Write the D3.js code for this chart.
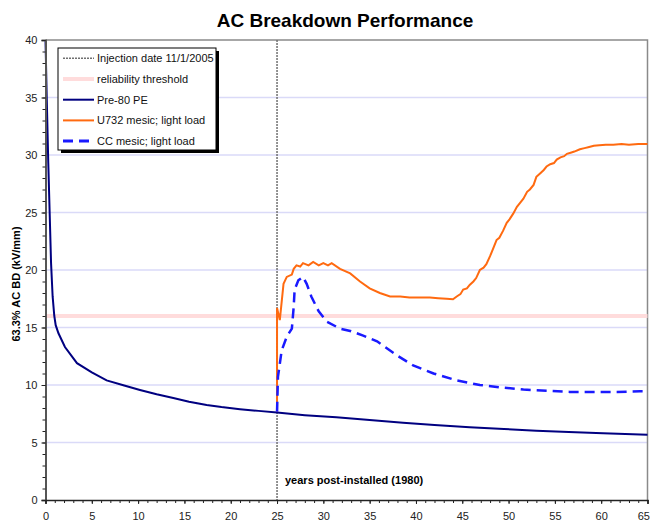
<!DOCTYPE html>
<html lang="en">
<head>
<meta charset="UTF-8">
<title>AC Breakdown Performance</title>
<script src="https://d3js.org/d3.v7.min.js"></script>
<style>
  body { margin: 0; background: #fff; }
  svg text { font-family: Arial, "Liberation Sans", sans-serif; }
</style>
</head>
<body>
<div id="chart"></div>
<script>
// ---- data ----
var preX = [0, 0.13, 0.3, 0.6, 0.77, 0.95, 1.1, 1.4, 2.1, 3.4, 5, 6.6, 8.5, 10.2, 12, 13.8, 15.5, 17.4, 19, 21, 23, 25, 28, 31.4, 35, 38.6, 42, 45.8, 49.5, 53, 56.5, 60.2, 65];
var preY = [40, 35.1, 29.3, 20.6, 17.7, 16.0, 15.2, 14.5, 13.3, 11.9, 11.1, 10.4, 9.95, 9.57, 9.2, 8.87, 8.55, 8.26, 8.08, 7.9, 7.75, 7.6, 7.38, 7.19, 6.95, 6.72, 6.52, 6.32, 6.17, 6.03, 5.91, 5.8, 5.68];

var u732X = [25, 25, 25.3, 25.7, 26.05, 26.6, 26.8, 27.1, 27.5, 27.8, 28.4, 28.9, 29.5, 30.0, 30.5, 30.9, 31.8, 32.9, 33.96, 35.0, 36.1, 37.2, 38.3, 39.3, 40.4, 41.5, 42.4, 43.3, 44.0, 44.4, 44.8, 45.1, 45.5, 45.8, 46.2, 46.5, 46.9, 47.3, 47.6, 48.0, 48.3, 48.7, 49.0, 49.4, 49.8, 50.1, 50.5, 50.9, 51.2, 51.6, 52.0, 52.3, 52.7, 53.0, 53.4, 53.8, 54.1, 54.5, 54.9, 55.2, 55.6, 56.0, 56.3, 56.7, 57.1, 57.7, 58.2, 58.7, 59.2, 59.8, 60.5, 61.3, 62.2, 63.0, 64.0, 65];
var u732Y = [7.68, 16.7, 15.65, 18.8, 19.4, 19.6, 20.1, 20.4, 20.3, 20.6, 20.4, 20.7, 20.4, 20.6, 20.4, 20.6, 20.1, 19.7, 19.0, 18.4, 18.0, 17.7, 17.7, 17.6, 17.6, 17.6, 17.55, 17.5, 17.45, 17.7, 17.9, 18.3, 18.4, 18.7, 19.0, 19.3, 20.0, 20.2, 20.5, 21.2, 21.8, 22.6, 22.8, 23.4, 24.1, 24.4, 24.9, 25.5, 25.8, 26.2, 26.8, 27.0, 27.4, 28.1, 28.4, 28.7, 29.0, 29.2, 29.3, 29.6, 29.8, 29.9, 30.1, 30.2, 30.3, 30.5, 30.6, 30.7, 30.8, 30.85, 30.9, 30.9, 30.95, 30.9, 30.95, 30.95];

var ccX = [25.0, 25.1, 25.5, 26.05, 26.6, 26.8, 26.9, 27.3, 27.8, 28.2, 28.7, 29.5, 30.4, 31.8, 32.9, 34.3, 35.8, 37.2, 37.9, 39.7, 41.9, 44.4, 46.9, 49.1, 51.6, 54.1, 56.6, 59.2, 61.7, 64.2, 65];
var ccY = [7.68, 10.7, 13.0, 14.2, 14.9, 16.8, 18.3, 19.1, 19.4, 18.8, 17.7, 16.4, 15.5, 14.9, 14.7, 14.3, 13.8, 13.0, 12.6, 11.7, 11.0, 10.4, 10.0, 9.8, 9.6, 9.5, 9.4, 9.4, 9.4, 9.45, 9.45];

var injectionYear = 25;
var thresholdValue = 16;

var xTicks = d3.range(0, 66, 5);
var yTicks = d3.range(0, 41, 5);
var gridValues = d3.range(5, 40, 5);

var legendLabels = ["Injection date 11/1/2005", "reliability threshold", "Pre-80 PE", "U732 mesic; light load", "CC mesic; light load"];

// ---- layout ----
var W = 652, H = 521;
var svg = d3.select("#chart").append("svg")
    .attr("width", W)
    .attr("height", H);

var x = d3.scaleLinear().domain([0, 65]).range([45.5, 647.5]);
var y = d3.scaleLinear().domain([0, 40]).range([500, 40]);

// gridlines
svg.append("g")
    .selectAll("line")
    .data(gridValues)
    .enter()
    .append("line")
    .attr("x1", x(0)).attr("x2", x(65))
    .attr("y1", function(d){ return y(d); })
    .attr("y2", function(d){ return y(d); })
    .attr("stroke", "#dadaf8")
    .attr("stroke-width", 1.5);

// top and right border of the plot area
svg.append("path")
    .attr("d", "M" + x(0) + "," + y(40) + "H" + x(65) + "V" + y(0))
    .attr("fill", "none")
    .attr("stroke", "#8a8a8a")
    .attr("stroke-width", 1.5);

// reliability threshold
svg.append("line")
    .attr("x1", x(0)).attr("x2", x(65))
    .attr("y1", y(thresholdValue)).attr("y2", y(thresholdValue))
    .attr("stroke", "#ffdcdc")
    .attr("stroke-width", 4);

// injection date
svg.append("line")
    .attr("x1", x(injectionYear)).attr("x2", x(injectionYear))
    .attr("y1", y(40)).attr("y2", y(0))
    .attr("stroke", "#707070")
    .attr("stroke-width", 1.5)
    .attr("stroke-dasharray", "2,1");

function series(xs, ys) {
    return xs.map(function(v, i){ return [v, ys[i]]; });
}
var line = d3.line()
    .x(function(d){ return x(d[0]); })
    .y(function(d){ return y(d[1]); });

svg.append("path")
    .attr("d", line(series(preX, preY)))
    .attr("fill", "none")
    .attr("stroke", "#000080")
    .attr("stroke-width", 2);

svg.append("path")
    .attr("d", line(series(u732X, u732Y)))
    .attr("fill", "none")
    .attr("stroke", "#ff6a10")
    .attr("stroke-width", 2);

svg.append("path")
    .attr("d", line(series(ccX, ccY)))
    .attr("fill", "none")
    .attr("stroke", "#1a1aff")
    .attr("stroke-width", 2.5)
    .attr("stroke-dasharray", "10,6");

// axes
var yAxis = svg.append("g")
    .attr("transform", "translate(" + x(0) + ",0)")
    .call(d3.axisLeft(y).tickValues(yTicks).tickSize(4).tickPadding(4));
svg.append("g")
    .attr("transform", "translate(" + x(0) + ",0)")
    .call(d3.axisLeft(y).tickValues(d3.range(0, 41, 1)).tickSize(3).tickFormat(""))
    .select(".domain").remove();

var xAxis = svg.append("g")
    .attr("transform", "translate(0," + y(0) + ")")
    .call(d3.axisBottom(x).tickValues(xTicks).tickSize(4).tickPadding(8));
svg.append("g")
    .attr("transform", "translate(0," + y(0) + ")")
    .call(d3.axisBottom(x).tickValues(d3.range(0, 66, 1)).tickSize(3).tickFormat(""))
    .select(".domain").remove();

svg.selectAll(".tick line").attr("stroke", "#222");
yAxis.select(".domain").attr("stroke", "#555").attr("stroke-width", 2);
xAxis.select(".domain").attr("stroke", "#222").attr("stroke-width", 1.5);
svg.selectAll(".tick text").attr("font-size", "11px").attr("fill", "#222")
    .attr("font-family", "Arial, 'Liberation Sans', sans-serif");
// keep the last x label inside the window
xAxis.selectAll(".tick text").filter(function(d){ return d === 65; })
    .attr("text-anchor", "end").attr("dx", "2");

// titles
svg.append("text")
    .attr("x", 345).attr("y", 27)
    .attr("text-anchor", "middle")
    .attr("font-size", "19px")
    .attr("font-weight", "bold")
    .text("AC Breakdown Performance");

svg.append("text")
    .attr("transform", "translate(20,284) rotate(-90)")
    .attr("text-anchor", "middle")
    .attr("font-size", "11px")
    .attr("font-weight", "bold")
    .text("63.3% AC BD (kV/mm)");

svg.append("text")
    .attr("x", 285).attr("y", 484)
    .attr("font-size", "11px")
    .attr("font-weight", "bold")
    .text("years post-installed (1980)");

// legend
var lg = svg.append("g");
lg.append("rect")
    .attr("x", 61).attr("y", 51).attr("width", 158).attr("height", 102)
    .attr("fill", "#000");
lg.append("rect")
    .attr("x", 58).attr("y", 48).attr("width", 158).attr("height", 102)
    .attr("fill", "#fff").attr("stroke", "#000").attr("stroke-width", 1);

var legendStyles = [
    {stroke: "#707070", width: 1.5, dash: "2,1"},
    {stroke: "#ffdcdc", width: 4, dash: null},
    {stroke: "#000080", width: 2, dash: null},
    {stroke: "#ff6a10", width: 2, dash: null},
    {stroke: "#1a1aff", width: 3, dash: "10,6"}
];
var entries = lg.selectAll("g.entry")
    .data(legendLabels)
    .enter()
    .append("g")
    .attr("class", "entry")
    .attr("transform", function(d, i){ return "translate(0," + (58.3 + i * 20.7) + ")"; });
entries.append("line")
    .attr("x1", 63).attr("x2", 94)
    .attr("stroke", function(d, i){ return legendStyles[i].stroke; })
    .attr("stroke-width", function(d, i){ return legendStyles[i].width; })
    .attr("stroke-dasharray", function(d, i){ return legendStyles[i].dash; });
entries.append("text")
    .attr("x", 97).attr("y", 4)
    .attr("font-size", "11px")
    .attr("fill", "#111")
    .text(function(d){ return d; });
</script>
</body>
</html>
